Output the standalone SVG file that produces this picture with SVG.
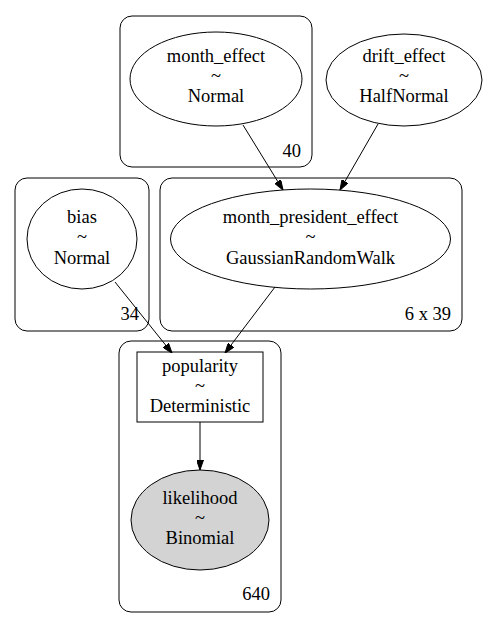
<svg xmlns="http://www.w3.org/2000/svg" width="490" height="628" viewBox="0 0 490 628">
<style>
.t text{font-family:'Liberation Serif','DejaVu Serif',serif;font-size:18.5px;fill:#000;text-anchor:middle}
.cl{fill:none;stroke:#000;stroke-width:1}
.n{fill:none;stroke:#000;stroke-width:1}
.obs{fill:#d3d3d3;stroke:#000;stroke-width:1}
.e{fill:none;stroke:#000;stroke-width:1}
.t text.lab{text-anchor:end}
</style>
<defs>
<marker id="ah" markerWidth="10" markerHeight="7" refX="10" refY="3.5" orient="auto" markerUnits="userSpaceOnUse">
<path d="M0,0 L10,3.5 L0,7 Z" fill="#000" stroke="#000" stroke-width="1"/>
</marker>
</defs>
<rect width="490" height="628" fill="#fff"/>
<g class="t" font-family="Liberation Serif, serif">
<g id="clusters">
<g id="cluster40"><rect class="cl" x="120" y="16" width="192" height="151" rx="12"/><text class="lab" x="301" y="157">40</text></g>
<g id="cluster34"><rect class="cl" x="15" y="178" width="134" height="153" rx="12"/><text class="lab" x="139" y="320">34</text></g>
<g id="cluster6x39"><rect class="cl" x="160" y="178" width="302" height="153" rx="12"/><text class="lab" x="451" y="320">6 x 39</text></g>
<g id="cluster640"><rect class="cl" x="119" y="341" width="162" height="271" rx="12"/><text class="lab" x="270" y="600">640</text></g>
</g>
<g id="edges">
<line class="e" x1="243" y1="125" x2="283" y2="190" marker-end="url(#ah)"/>
<line class="e" x1="378" y1="124" x2="340" y2="190" marker-end="url(#ah)"/>
<line class="e" x1="115" y1="282" x2="172" y2="353" marker-end="url(#ah)"/>
<line class="e" x1="275" y1="287" x2="225" y2="353" marker-end="url(#ah)"/>
<line class="e" x1="200" y1="422" x2="200" y2="470" marker-end="url(#ah)"/>
</g>
<g id="month_effect"><ellipse class="n" cx="216" cy="79" rx="86" ry="47"/><text x="216" y="62">month_effect</text><text x="216" y="82">~</text><text x="216" y="102">Normal</text></g>
<g id="drift_effect"><ellipse class="n" cx="404" cy="80" rx="78" ry="46"/><text x="404" y="62">drift_effect</text><text x="404" y="82">~</text><text x="404" y="102">HalfNormal</text></g>
<g id="bias"><ellipse class="n" cx="82" cy="239" rx="55" ry="50"/><text x="82" y="223">bias</text><text x="82" y="243">~</text><text x="82" y="264">Normal</text></g>
<g id="month_president_effect"><ellipse class="n" cx="310.5" cy="239" rx="140" ry="50"/><text x="310.5" y="223">month_president_effect</text><text x="310.5" y="243">~</text><text x="310.5" y="264">GaussianRandomWalk</text></g>
<g id="popularity"><rect class="n" x="137" y="352" width="126" height="70"/><text x="200" y="372">popularity</text><text x="200" y="392">~</text><text x="200" y="412">Deterministic</text></g>
<g id="likelihood"><ellipse class="obs" cx="200" cy="520" rx="69" ry="50"/><text x="200" y="504">likelihood</text><text x="200" y="524">~</text><text x="200" y="544">Binomial</text></g>
</g>
</svg>
